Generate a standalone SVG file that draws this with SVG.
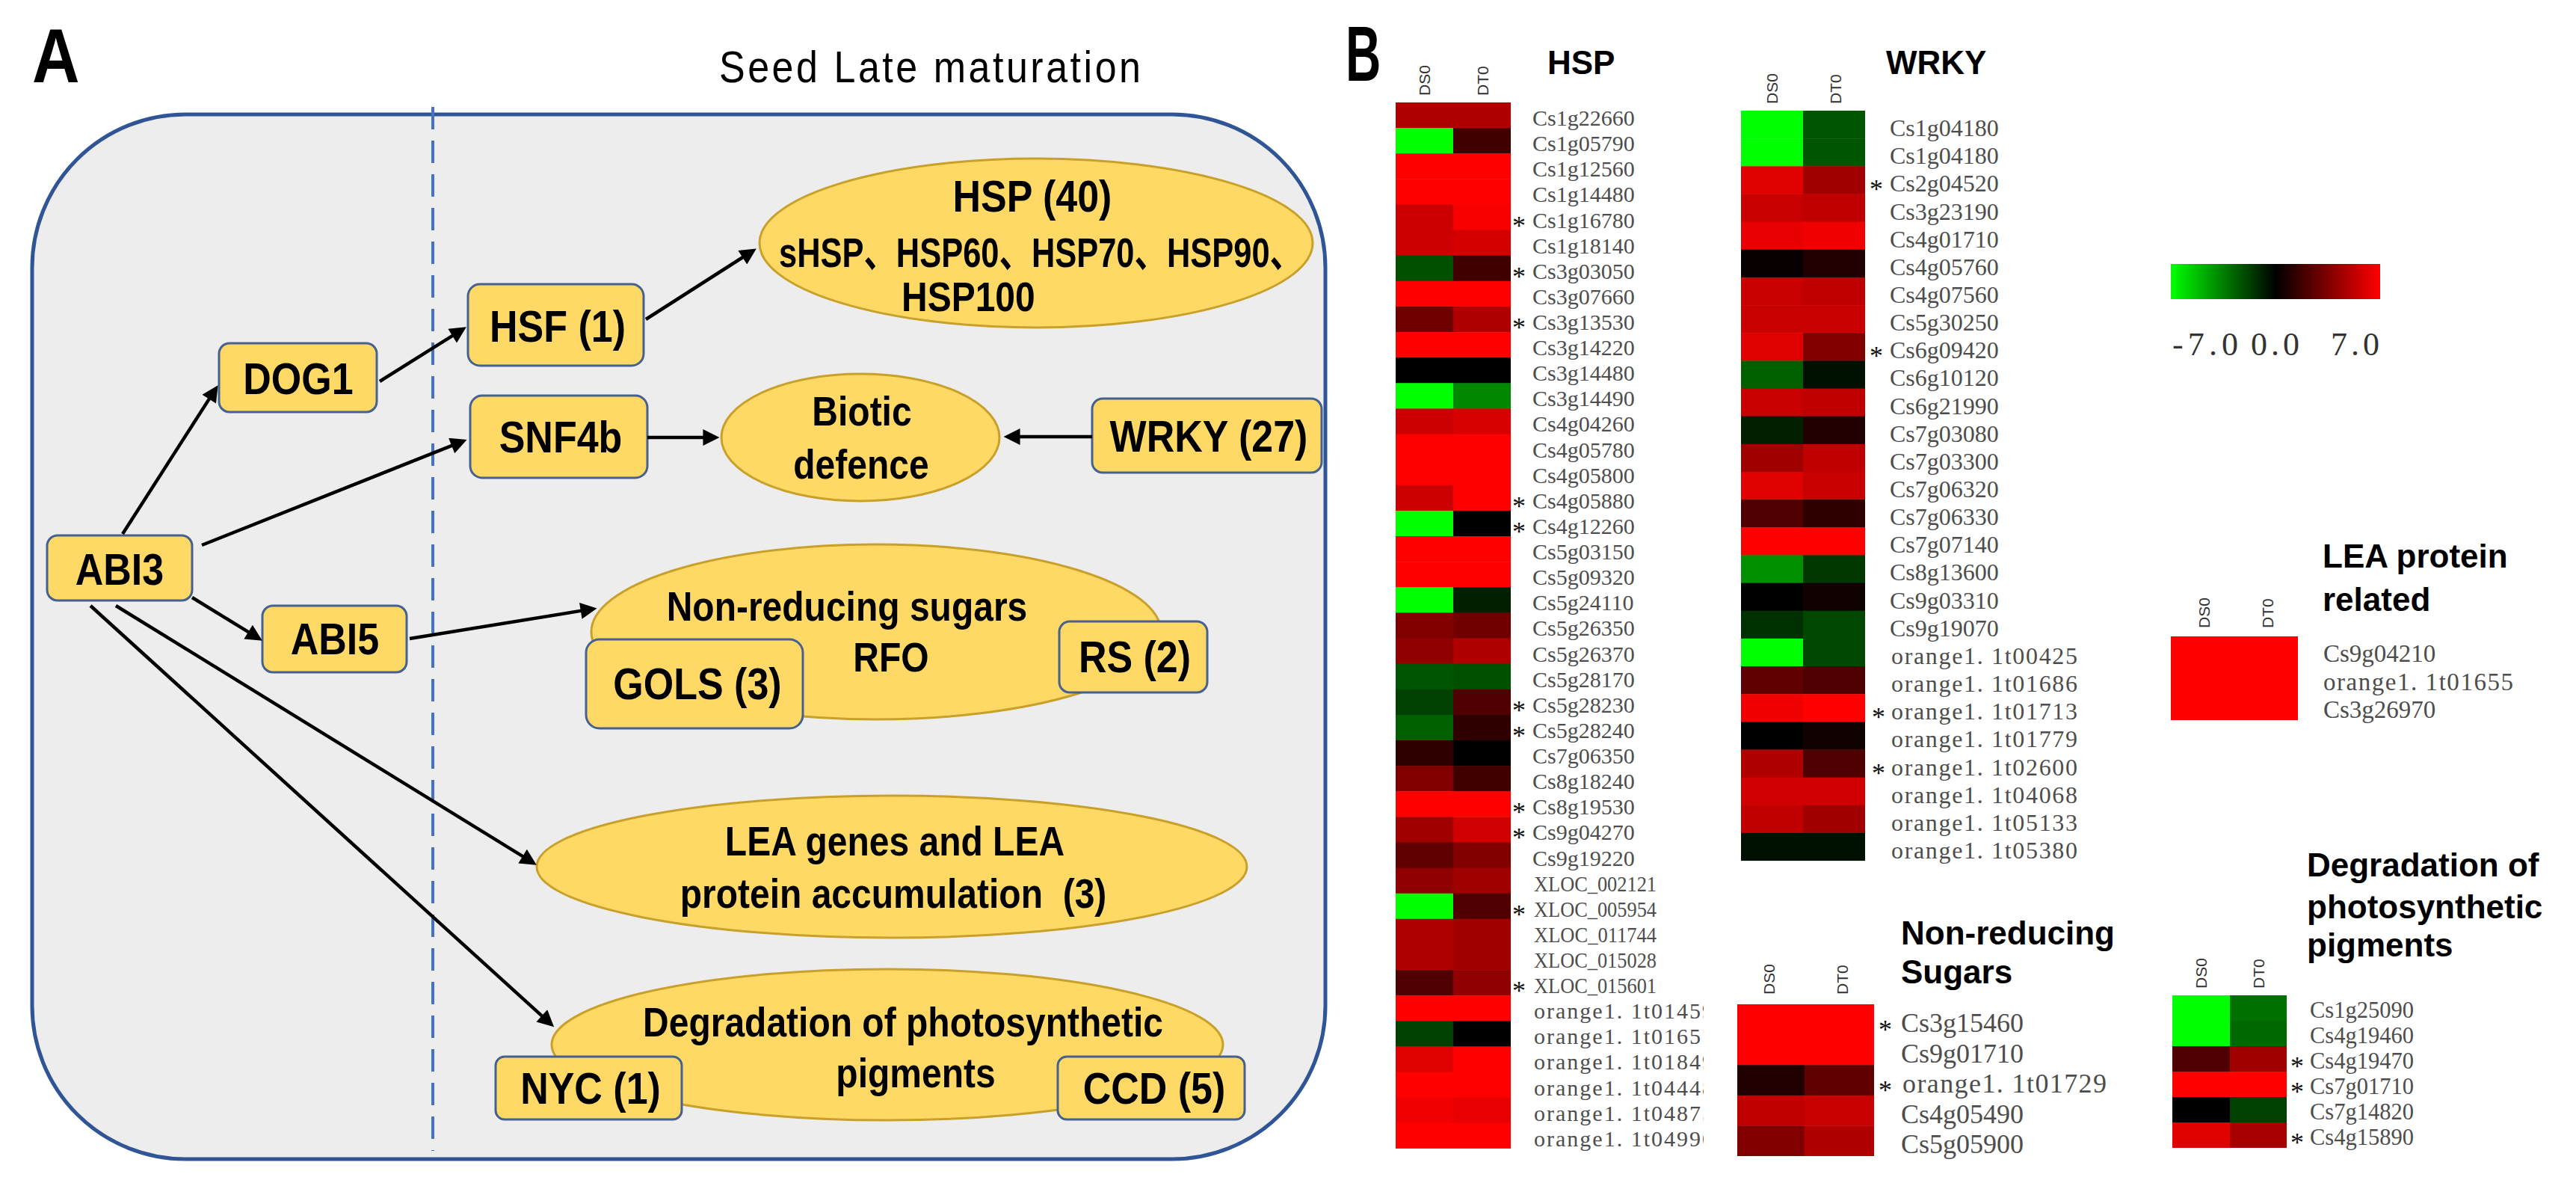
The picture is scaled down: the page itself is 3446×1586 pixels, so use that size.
<svg xmlns="http://www.w3.org/2000/svg" width="3446" height="1586" viewBox="0 0 3446 1586">
<style>
.panel{fill:#EDEDED;stroke:#2F5597;stroke-width:5}
.dash{stroke:#4472C4;stroke-width:4;stroke-dasharray:30 15;fill:none}
.box{fill:#FFD966;stroke:#44618F;stroke-width:3}
.ell{fill:#FFD966;stroke:#C8A02A;stroke-width:3}
.lab{font-family:"Liberation Sans",Arial,sans-serif;font-weight:bold;font-size:52px;text-anchor:middle;fill:#000}
.elab{font-family:"Liberation Sans",Arial,"Noto Sans CJK SC",sans-serif;font-weight:bold;font-size:48px;text-anchor:middle;fill:#000}
.big{font-family:"Liberation Sans",Arial,sans-serif;font-weight:bold;fill:#000}
.conn{stroke:#000;stroke-width:4.5;fill:none;marker-end:url(#ah)}
.gene{font-family:"Liberation Serif","Times New Roman",serif;fill:#4d4d4d}
.ast{font-family:"Liberation Serif","Times New Roman",serif;font-size:36px;fill:#111}
.col{font-family:"Liberation Sans",Arial,sans-serif;font-size:21px;fill:#333}
.ttl{font-family:"Liberation Sans",Arial,sans-serif;font-weight:bold;font-size:44px;fill:#000}
.h30{font-size:30px}.h32{font-size:32px}.h36{font-size:36px}.h33{font-size:33px}
</style>
<defs>
<marker id="ah" viewBox="0 0 10 10" refX="5.7" refY="5" markerWidth="28" markerHeight="22" markerUnits="userSpaceOnUse" orient="auto"><path d="M0,0 L10,5 L0,10 z" fill="#000"/></marker>
<linearGradient id="cbar" x1="0" y1="0" x2="1" y2="0"><stop offset="0" stop-color="#00FF00"/><stop offset="0.5" stop-color="#000000"/><stop offset="1" stop-color="#FF0000"/></linearGradient>
<clipPath id="hspclip"><rect x="1800" y="0" width="479" height="1586"/></clipPath>
</defs>
<rect x="0" y="0" width="3446" height="1586" fill="#FFFFFF"/>

<!-- Panel A -->
<text class="big" x="43" y="110" font-size="88" transform="matrix(1 0 0 1.15 0 -16.5)">A</text>
<text x="962" y="110" font-family="Liberation Sans, Arial, sans-serif" font-size="52" textLength="564" transform="matrix(1 0 0 1.15 0 -16.5)">Seed Late maturation</text>
<rect class="panel" x="43" y="153" width="1730" height="1397" rx="205" ry="205"/>
<line class="dash" x1="579" y1="143" x2="579" y2="1539"/>

<g id="node-hsp">
<ellipse class="ell" cx="1386" cy="325" rx="370" ry="113"/>
<text class="lab" x="1381" y="283" transform="matrix(1 0 0 1.15 0 -42.45)">HSP (40)</text>
<text class="elab" x="1042" y="357" font-size="44" textLength="700" lengthAdjust="spacingAndGlyphs" style="text-anchor:start" transform="matrix(1 0 0 1.15 0 -53.55)">sHSP、HSP60、HSP70、HSP90、</text>
<text class="elab" x="1206" y="416" font-size="44" style="text-anchor:start" transform="matrix(1 0 0 1.15 0 -62.4)">HSP100</text>
</g>
<g id="node-biotic">
<ellipse class="ell" cx="1151" cy="585" rx="186" ry="85"/>
<text class="elab" x="1153" y="569" transform="matrix(1 0 0 1.15 0 -85.35)">Biotic</text>
<text class="elab" x="1152" y="640" transform="matrix(1 0 0 1.15 0 -96)">defence</text>
</g>
<g id="node-nonreducing">
<ellipse class="ell" cx="1172" cy="845" rx="381" ry="117"/>
<text class="elab" x="1133" y="830" transform="matrix(1 0 0 1.15 0 -124.5)">Non-reducing sugars</text>
<text class="elab" x="1192" y="898" font-size="50" transform="matrix(1 0 0 1.15 0 -134.7)">RFO</text>
</g>
<g id="node-lea">
<ellipse class="ell" cx="1193" cy="1159" rx="475" ry="95"/>
<text class="elab" x="1197" y="1144" transform="matrix(1 0 0 1.15 0 -171.6)">LEA genes and LEA</text>
<text class="elab" x="1195" y="1214" transform="matrix(1 0 0 1.15 0 -182.1)">protein accumulation&#160; (3)</text>
</g>
<g id="node-degradation">
<ellipse class="ell" cx="1187" cy="1397" rx="449" ry="101"/>
<text class="elab" x="1208" y="1386" transform="matrix(1 0 0 1.15 0 -207.9)">Degradation of photosynthetic</text>
<text class="elab" x="1225" y="1454" transform="matrix(1 0 0 1.15 0 -218.1)">pigments</text>
</g>

<g id="node-abi3"><rect class="box" x="63" y="716" width="194" height="87" rx="14"/><text class="lab" x="160" y="782" font-size="50" transform="matrix(1 0 0 1.15 0 -117.3)">ABI3</text></g>
<g id="node-dog1"><rect class="box" x="293" y="459" width="211" height="92" rx="14"/><text class="lab" x="399" y="527" transform="matrix(1 0 0 1.15 0 -79.05)">DOG1</text></g>
<g id="node-hsf"><rect class="box" x="626" y="380" width="235" height="109" rx="16"/><text class="lab" x="746" y="457" transform="matrix(1 0 0 1.15 0 -68.55)">HSF (1)</text></g>
<g id="node-snf4b"><rect class="box" x="629" y="529" width="237" height="110" rx="16"/><text class="lab" x="750" y="605" transform="matrix(1 0 0 1.15 0 -90.75)">SNF4b</text></g>
<g id="node-abi5"><rect class="box" x="351" y="810" width="193" height="89" rx="14"/><text class="lab" x="448" y="875" font-size="50" transform="matrix(1 0 0 1.15 0 -131.25)">ABI5</text></g>
<g id="node-wrky"><rect class="box" x="1461" y="533" width="307" height="99" rx="14"/><text class="lab" x="1617" y="604" font-size="50" transform="matrix(1 0 0 1.15 0 -90.6)">WRKY (27)</text></g>
<g id="node-gols"><rect class="box" x="784" y="855" width="290" height="119" rx="18"/><text class="lab" x="933" y="935" transform="matrix(1 0 0 1.15 0 -140.25)">GOLS (3)</text></g>
<g id="node-rs"><rect class="box" x="1417" y="831" width="198" height="95" rx="14"/><text class="lab" x="1518" y="899" transform="matrix(1 0 0 1.15 0 -134.85)">RS (2)</text></g>
<g id="node-nyc"><rect class="box" x="663" y="1413" width="249" height="84" rx="12"/><text class="lab" x="790" y="1476" transform="matrix(1 0 0 1.15 0 -221.4)">NYC (1)</text></g>
<g id="node-ccd"><rect class="box" x="1415" y="1413" width="250" height="84" rx="12"/><text class="lab" x="1544" y="1476" transform="matrix(1 0 0 1.15 0 -221.4)">CCD (5)</text></g>

<g id="connectors">
<line class="conn" x1="164" y1="714" x2="286.5" y2="523.1"/>
<line class="conn" x1="508" y1="510" x2="615.8" y2="442.4"/>
<line class="conn" x1="270" y1="729" x2="615.8" y2="591.4"/>
<line class="conn" x1="864" y1="427" x2="1003.9" y2="337.5"/>
<line class="conn" x1="866" y1="585" x2="953" y2="585"/>
<line class="conn" x1="1461" y1="584" x2="1352" y2="584"/>
<line class="conn" x1="257" y1="799" x2="342.8" y2="851.7"/>
<line class="conn" x1="548" y1="854" x2="789.2" y2="814.9"/>
<line class="conn" x1="155" y1="810" x2="709.8" y2="1151.7"/>
<line class="conn" x1="121" y1="810" x2="734.1" y2="1366.9"/>
</g>

<!-- Panel B -->
<text class="big" x="1800" y="108" font-size="104" transform="matrix(0.63 0 0 1 666 0)">B</text>

<g id="heatmap-hsp">
<text class="ttl" x="2070" y="99" font-size="46">HSP</text>
<text class="col" transform="translate(1913,128) rotate(-90)">DS0</text>
<text class="col" transform="translate(1991,128) rotate(-90)">DT0</text>
<g>
<rect x="1867" y="137" width="77" height="34.6" fill="#B00000"/><rect x="1944" y="137" width="77" height="34.6" fill="#B00000"/>
<rect x="1867" y="171.1" width="77" height="34.6" fill="#00FF00"/><rect x="1944" y="171.1" width="77" height="34.6" fill="#400000"/>
<rect x="1867" y="205.2" width="77" height="34.6" fill="#FF0000"/><rect x="1944" y="205.2" width="77" height="34.6" fill="#FF0000"/>
<rect x="1867" y="239.4" width="77" height="34.6" fill="#FF0000"/><rect x="1944" y="239.4" width="77" height="34.6" fill="#FF0000"/>
<rect x="1867" y="273.5" width="77" height="34.6" fill="#CC0000"/><rect x="1944" y="273.5" width="77" height="34.6" fill="#F80000"/>
<rect x="1867" y="307.6" width="77" height="34.6" fill="#CC0000"/><rect x="1944" y="307.6" width="77" height="34.6" fill="#D40000"/>
<rect x="1867" y="341.7" width="77" height="34.6" fill="#005000"/><rect x="1944" y="341.7" width="77" height="34.6" fill="#400000"/>
<rect x="1867" y="375.8" width="77" height="34.6" fill="#FF0000"/><rect x="1944" y="375.8" width="77" height="34.6" fill="#FF0000"/>
<rect x="1867" y="410" width="77" height="34.6" fill="#700000"/><rect x="1944" y="410" width="77" height="34.6" fill="#B00000"/>
<rect x="1867" y="444.1" width="77" height="34.6" fill="#FF0000"/><rect x="1944" y="444.1" width="77" height="34.6" fill="#FF0000"/>
<rect x="1867" y="478.2" width="77" height="34.6" fill="#000000"/><rect x="1944" y="478.2" width="77" height="34.6" fill="#000000"/>
<rect x="1867" y="512.3" width="77" height="34.6" fill="#00FF00"/><rect x="1944" y="512.3" width="77" height="34.6" fill="#008800"/>
<rect x="1867" y="546.4" width="77" height="34.6" fill="#CC0000"/><rect x="1944" y="546.4" width="77" height="34.6" fill="#D80000"/>
<rect x="1867" y="580.6" width="77" height="34.6" fill="#FF0000"/><rect x="1944" y="580.6" width="77" height="34.6" fill="#FF0000"/>
<rect x="1867" y="614.7" width="77" height="34.6" fill="#FF0000"/><rect x="1944" y="614.7" width="77" height="34.6" fill="#FF0000"/>
<rect x="1867" y="648.8" width="77" height="34.6" fill="#CC0000"/><rect x="1944" y="648.8" width="77" height="34.6" fill="#FF0000"/>
<rect x="1867" y="682.9" width="77" height="34.6" fill="#00FF00"/><rect x="1944" y="682.9" width="77" height="34.6" fill="#000000"/>
<rect x="1867" y="717" width="77" height="34.6" fill="#FF0000"/><rect x="1944" y="717" width="77" height="34.6" fill="#FF0000"/>
<rect x="1867" y="751.2" width="77" height="34.6" fill="#FF0000"/><rect x="1944" y="751.2" width="77" height="34.6" fill="#FF0000"/>
<rect x="1867" y="785.3" width="77" height="34.6" fill="#00FF00"/><rect x="1944" y="785.3" width="77" height="34.6" fill="#002000"/>
<rect x="1867" y="819.4" width="77" height="34.6" fill="#800000"/><rect x="1944" y="819.4" width="77" height="34.6" fill="#700000"/>
<rect x="1867" y="853.5" width="77" height="34.6" fill="#900000"/><rect x="1944" y="853.5" width="77" height="34.6" fill="#B00000"/>
<rect x="1867" y="887.6" width="77" height="34.6" fill="#005500"/><rect x="1944" y="887.6" width="77" height="34.6" fill="#005000"/>
<rect x="1867" y="921.8" width="77" height="34.6" fill="#004000"/><rect x="1944" y="921.8" width="77" height="34.6" fill="#500000"/>
<rect x="1867" y="955.9" width="77" height="34.6" fill="#006000"/><rect x="1944" y="955.9" width="77" height="34.6" fill="#300000"/>
<rect x="1867" y="990" width="77" height="34.6" fill="#300000"/><rect x="1944" y="990" width="77" height="34.6" fill="#000000"/>
<rect x="1867" y="1024.1" width="77" height="34.6" fill="#800000"/><rect x="1944" y="1024.1" width="77" height="34.6" fill="#400000"/>
<rect x="1867" y="1058.2" width="77" height="34.6" fill="#FF0000"/><rect x="1944" y="1058.2" width="77" height="34.6" fill="#FF0000"/>
<rect x="1867" y="1092.4" width="77" height="34.6" fill="#A00000"/><rect x="1944" y="1092.4" width="77" height="34.6" fill="#D00000"/>
<rect x="1867" y="1126.5" width="77" height="34.6" fill="#600000"/><rect x="1944" y="1126.5" width="77" height="34.6" fill="#800000"/>
<rect x="1867" y="1160.6" width="77" height="34.6" fill="#900000"/><rect x="1944" y="1160.6" width="77" height="34.6" fill="#A00000"/>
<rect x="1867" y="1194.7" width="77" height="34.6" fill="#00FF00"/><rect x="1944" y="1194.7" width="77" height="34.6" fill="#500000"/>
<rect x="1867" y="1228.8" width="77" height="34.6" fill="#B00000"/><rect x="1944" y="1228.8" width="77" height="34.6" fill="#A00000"/>
<rect x="1867" y="1263" width="77" height="34.6" fill="#B00000"/><rect x="1944" y="1263" width="77" height="34.6" fill="#A00000"/>
<rect x="1867" y="1297.1" width="77" height="34.6" fill="#500000"/><rect x="1944" y="1297.1" width="77" height="34.6" fill="#900000"/>
<rect x="1867" y="1331.2" width="77" height="34.6" fill="#FF0000"/><rect x="1944" y="1331.2" width="77" height="34.6" fill="#FF0000"/>
<rect x="1867" y="1365.3" width="77" height="34.6" fill="#004000"/><rect x="1944" y="1365.3" width="77" height="34.6" fill="#000000"/>
<rect x="1867" y="1399.4" width="77" height="34.6" fill="#E00000"/><rect x="1944" y="1399.4" width="77" height="34.6" fill="#FF0000"/>
<rect x="1867" y="1433.6" width="77" height="34.6" fill="#FF0000"/><rect x="1944" y="1433.6" width="77" height="34.6" fill="#FF0000"/>
<rect x="1867" y="1467.7" width="77" height="34.6" fill="#F00000"/><rect x="1944" y="1467.7" width="77" height="34.6" fill="#E80000"/>
<rect x="1867" y="1501.8" width="77" height="34.1" fill="#FF0000"/><rect x="1944" y="1501.8" width="77" height="34.1" fill="#FF0000"/>
</g>
<g class="gene h30">
<text x="2050" y="168">Cs1g22660</text>
<text x="2050" y="202.1">Cs1g05790</text>
<text x="2050" y="236.2">Cs1g12560</text>
<text x="2050" y="270.4">Cs1g14480</text>
<text x="2050" y="304.5">Cs1g16780</text>
<text x="2050" y="338.6">Cs1g18140</text>
<text x="2050" y="372.7">Cs3g03050</text>
<text x="2050" y="406.8">Cs3g07660</text>
<text x="2050" y="441">Cs3g13530</text>
<text x="2050" y="475.1">Cs3g14220</text>
<text x="2050" y="509.2">Cs3g14480</text>
<text x="2050" y="543.3">Cs3g14490</text>
<text x="2050" y="577.4">Cs4g04260</text>
<text x="2050" y="611.6">Cs4g05780</text>
<text x="2050" y="645.7">Cs4g05800</text>
<text x="2050" y="679.8">Cs4g05880</text>
<text x="2050" y="713.9">Cs4g12260</text>
<text x="2050" y="748">Cs5g03150</text>
<text x="2050" y="782.2">Cs5g09320</text>
<text x="2050" y="816.3">Cs5g24110</text>
<text x="2050" y="850.4">Cs5g26350</text>
<text x="2050" y="884.5">Cs5g26370</text>
<text x="2050" y="918.6">Cs5g28170</text>
<text x="2050" y="952.8">Cs5g28230</text>
<text x="2050" y="986.9">Cs5g28240</text>
<text x="2050" y="1021">Cs7g06350</text>
<text x="2050" y="1055.1">Cs8g18240</text>
<text x="2050" y="1089.2">Cs8g19530</text>
<text x="2050" y="1123.4">Cs9g04270</text>
<text x="2050" y="1157.5">Cs9g19220</text>
<text x="2052" y="1191.6" textLength="164" lengthAdjust="spacingAndGlyphs">XLOC_002121</text>
<text x="2052" y="1225.7" textLength="164" lengthAdjust="spacingAndGlyphs">XLOC_005954</text>
<text x="2052" y="1259.8" textLength="164" lengthAdjust="spacingAndGlyphs">XLOC_011744</text>
<text x="2052" y="1294" textLength="164" lengthAdjust="spacingAndGlyphs">XLOC_015028</text>
<text x="2052" y="1328.1" textLength="164" lengthAdjust="spacingAndGlyphs">XLOC_015601</text>
<g clip-path="url(#hspclip)">
<text x="2052" y="1362.2" textLength="240">orange1. 1t01459</text>
<text x="2052" y="1396.3" textLength="240">orange1. 1t01657</text>
<text x="2052" y="1430.4" textLength="240">orange1. 1t01849</text>
<text x="2052" y="1464.6" textLength="240">orange1. 1t04448</text>
<text x="2052" y="1498.7" textLength="240">orange1. 1t04875</text>
<text x="2052" y="1532.8" textLength="240">orange1. 1t04990</text>
</g>
</g>
<g class="ast">
<text x="2023" y="313.5">*</text>
<text x="2023" y="381.7">*</text>
<text x="2023" y="450">*</text>
<text x="2023" y="688.8">*</text>
<text x="2023" y="722.9">*</text>
<text x="2023" y="961.8">*</text>
<text x="2023" y="995.9">*</text>
<text x="2023" y="1098.2">*</text>
<text x="2023" y="1132.4">*</text>
<text x="2023" y="1234.7">*</text>
<text x="2023" y="1337.1">*</text>
</g>
</g>

<g id="heatmap-wrky">
<text class="ttl" x="2523" y="99" font-size="45">WRKY</text>
<text class="col" transform="translate(2378,139) rotate(-90)">DS0</text>
<text class="col" transform="translate(2463,139) rotate(-90)">DT0</text>
<g>
<rect x="2329" y="148" width="83" height="37.6" fill="#00FF00"/><rect x="2412" y="148" width="83" height="37.6" fill="#005500"/>
<rect x="2329" y="185.2" width="83" height="37.6" fill="#00FF00"/><rect x="2412" y="185.2" width="83" height="37.6" fill="#005500"/>
<rect x="2329" y="222.3" width="83" height="37.6" fill="#E00000"/><rect x="2412" y="222.3" width="83" height="37.6" fill="#A00000"/>
<rect x="2329" y="259.5" width="83" height="37.6" fill="#C80000"/><rect x="2412" y="259.5" width="83" height="37.6" fill="#C00000"/>
<rect x="2329" y="296.6" width="83" height="37.6" fill="#E80000"/><rect x="2412" y="296.6" width="83" height="37.6" fill="#F00000"/>
<rect x="2329" y="333.8" width="83" height="37.6" fill="#080000"/><rect x="2412" y="333.8" width="83" height="37.6" fill="#200000"/>
<rect x="2329" y="370.9" width="83" height="37.6" fill="#C80000"/><rect x="2412" y="370.9" width="83" height="37.6" fill="#C00000"/>
<rect x="2329" y="408.1" width="83" height="37.6" fill="#C80000"/><rect x="2412" y="408.1" width="83" height="37.6" fill="#C80000"/>
<rect x="2329" y="445.2" width="83" height="37.6" fill="#E00000"/><rect x="2412" y="445.2" width="83" height="37.6" fill="#800000"/>
<rect x="2329" y="482.4" width="83" height="37.6" fill="#006000"/><rect x="2412" y="482.4" width="83" height="37.6" fill="#001000"/>
<rect x="2329" y="519.5" width="83" height="37.6" fill="#C80000"/><rect x="2412" y="519.5" width="83" height="37.6" fill="#C00000"/>
<rect x="2329" y="556.7" width="83" height="37.6" fill="#002000"/><rect x="2412" y="556.7" width="83" height="37.6" fill="#200000"/>
<rect x="2329" y="593.8" width="83" height="37.6" fill="#A00000"/><rect x="2412" y="593.8" width="83" height="37.6" fill="#C00000"/>
<rect x="2329" y="631" width="83" height="37.6" fill="#E00000"/><rect x="2412" y="631" width="83" height="37.6" fill="#C80000"/>
<rect x="2329" y="668.1" width="83" height="37.6" fill="#500000"/><rect x="2412" y="668.1" width="83" height="37.6" fill="#300000"/>
<rect x="2329" y="705.3" width="83" height="37.6" fill="#FF0000"/><rect x="2412" y="705.3" width="83" height="37.6" fill="#FF0000"/>
<rect x="2329" y="742.4" width="83" height="37.6" fill="#009000"/><rect x="2412" y="742.4" width="83" height="37.6" fill="#003800"/>
<rect x="2329" y="779.6" width="83" height="37.6" fill="#000000"/><rect x="2412" y="779.6" width="83" height="37.6" fill="#100000"/>
<rect x="2329" y="816.7" width="83" height="37.6" fill="#003000"/><rect x="2412" y="816.7" width="83" height="37.6" fill="#004800"/>
<rect x="2329" y="853.9" width="83" height="37.6" fill="#00FF00"/><rect x="2412" y="853.9" width="83" height="37.6" fill="#004800"/>
<rect x="2329" y="891" width="83" height="37.6" fill="#600000"/><rect x="2412" y="891" width="83" height="37.6" fill="#500000"/>
<rect x="2329" y="928.2" width="83" height="37.6" fill="#F00000"/><rect x="2412" y="928.2" width="83" height="37.6" fill="#FF0000"/>
<rect x="2329" y="965.3" width="83" height="37.6" fill="#000000"/><rect x="2412" y="965.3" width="83" height="37.6" fill="#100000"/>
<rect x="2329" y="1002.5" width="83" height="37.6" fill="#B00000"/><rect x="2412" y="1002.5" width="83" height="37.6" fill="#500000"/>
<rect x="2329" y="1039.6" width="83" height="37.6" fill="#D00000"/><rect x="2412" y="1039.6" width="83" height="37.6" fill="#D00000"/>
<rect x="2329" y="1076.8" width="83" height="37.6" fill="#C00000"/><rect x="2412" y="1076.8" width="83" height="37.6" fill="#A00000"/>
<rect x="2329" y="1113.9" width="83" height="37.2" fill="#001000"/><rect x="2412" y="1113.9" width="83" height="37.2" fill="#001000"/>
</g>
<g class="gene h32">
<text x="2528" y="182">Cs1g04180</text>
<text x="2528" y="219.2">Cs1g04180</text>
<text x="2528" y="256.3">Cs2g04520</text>
<text x="2528" y="293.5">Cs3g23190</text>
<text x="2528" y="330.6">Cs4g01710</text>
<text x="2528" y="367.8">Cs4g05760</text>
<text x="2528" y="404.9">Cs4g07560</text>
<text x="2528" y="442.1">Cs5g30250</text>
<text x="2528" y="479.2">Cs6g09420</text>
<text x="2528" y="516.4">Cs6g10120</text>
<text x="2528" y="553.5">Cs6g21990</text>
<text x="2528" y="590.7">Cs7g03080</text>
<text x="2528" y="627.8">Cs7g03300</text>
<text x="2528" y="665">Cs7g06320</text>
<text x="2528" y="702.1">Cs7g06330</text>
<text x="2528" y="739.3">Cs7g07140</text>
<text x="2528" y="776.4">Cs8g13600</text>
<text x="2528" y="813.6">Cs9g03310</text>
<text x="2528" y="850.7">Cs9g19070</text>
<text x="2530" y="887.9" textLength="249">orange1. 1t00425</text>
<text x="2530" y="925" textLength="249">orange1. 1t01686</text>
<text x="2530" y="962.2" textLength="249">orange1. 1t01713</text>
<text x="2530" y="999.3" textLength="249">orange1. 1t01779</text>
<text x="2530" y="1036.5" textLength="249">orange1. 1t02600</text>
<text x="2530" y="1073.6" textLength="249">orange1. 1t04068</text>
<text x="2530" y="1110.8" textLength="249">orange1. 1t05133</text>
<text x="2530" y="1147.9" textLength="249">orange1. 1t05380</text>
</g>
<g class="ast">
<text x="2501" y="265.3">*</text>
<text x="2501" y="488.2">*</text>
<text x="2504" y="971.2">*</text>
<text x="2504" y="1045.5">*</text>
</g>
</g>

<g id="heatmap-nonreducing">
<text class="ttl" x="2543" y="1263">Non-reducing</text>
<text class="ttl" x="2543" y="1315">Sugars</text>
<text class="col" transform="translate(2374,1330) rotate(-90)">DS0</text>
<text class="col" transform="translate(2472,1330) rotate(-90)">DT0</text>
<rect x="2324" y="1343" width="90" height="41" fill="#FF0000"/><rect x="2414" y="1343" width="93" height="41" fill="#FF0000"/>
<rect x="2324" y="1383.6" width="90" height="41" fill="#FF0000"/><rect x="2414" y="1383.6" width="93" height="41" fill="#FF0000"/>
<rect x="2324" y="1424.2" width="90" height="41" fill="#200000"/><rect x="2414" y="1424.2" width="93" height="41" fill="#600000"/>
<rect x="2324" y="1464.8" width="90" height="41" fill="#C00000"/><rect x="2414" y="1464.8" width="93" height="41" fill="#C80000"/>
<rect x="2324" y="1505.4" width="90" height="40.6" fill="#800000"/><rect x="2414" y="1505.4" width="93" height="40.6" fill="#B00000"/>
<g class="gene h36">
<text x="2543" y="1380">Cs3g15460</text>
<text x="2543" y="1421">Cs9g01710</text>
<text x="2545" y="1461" textLength="273">orange1. 1t01729</text>
<text x="2543" y="1502">Cs4g05490</text>
<text x="2543" y="1542">Cs5g05900</text>
</g>
<g class="ast">
<text x="2513" y="1389">*</text>
<text x="2513" y="1470">*</text>
</g>
</g>

<g id="colorbar">
<rect x="2904" y="353" width="280" height="47" fill="url(#cbar)"/>
<g class="gene" style="fill:#333" font-size="44">
<text x="2906" y="475" textLength="88">-7.0</text>
<text x="3011" y="475" textLength="65">0.0</text>
<text x="3118" y="475" textLength="65">7.0</text>
</g>
</g>

<g id="heatmap-lea">
<text class="ttl" x="3107" y="759">LEA protein</text>
<text class="ttl" x="3107" y="817">related</text>
<text class="col" transform="translate(2956,840) rotate(-90)">DS0</text>
<text class="col" transform="translate(3041,840) rotate(-90)">DT0</text>
<rect x="2904" y="851" width="170" height="112" fill="#FF0000"/>
<g class="gene h33">
<text x="3108" y="885">Cs9g04210</text>
<text x="3108" y="923" textLength="254">orange1. 1t01655</text>
<text x="3108" y="960">Cs3g26970</text>
</g>
</g>

<g id="heatmap-degradation">
<text class="ttl" x="3086" y="1172">Degradation of</text>
<text class="ttl" x="3086" y="1228">photosynthetic</text>
<text class="ttl" x="3086" y="1279">pigments</text>
<text class="col" transform="translate(2952,1322) rotate(-90)">DS0</text>
<text class="col" transform="translate(3029,1322) rotate(-90)">DT0</text>
<rect x="2906" y="1331" width="77" height="34.5" fill="#00FF00"/><rect x="2983" y="1331" width="76" height="34.5" fill="#007000"/>
<rect x="2906" y="1365" width="77" height="34.5" fill="#00FF00"/><rect x="2983" y="1365" width="76" height="34.5" fill="#006800"/>
<rect x="2906" y="1399" width="77" height="34.5" fill="#500000"/><rect x="2983" y="1399" width="76" height="34.5" fill="#A00000"/>
<rect x="2906" y="1433" width="77" height="34.5" fill="#FF0000"/><rect x="2983" y="1433" width="76" height="34.5" fill="#FF0000"/>
<rect x="2906" y="1467" width="77" height="34.5" fill="#000000"/><rect x="2983" y="1467" width="76" height="34.5" fill="#004000"/>
<rect x="2906" y="1501" width="77" height="34" fill="#E00000"/><rect x="2983" y="1501" width="76" height="34" fill="#A80000"/>
<g class="gene" font-size="30.5">
<text x="3090" y="1361">Cs1g25090</text>
<text x="3090" y="1395">Cs4g19460</text>
<text x="3090" y="1429">Cs4g19470</text>
<text x="3090" y="1463">Cs7g01710</text>
<text x="3090" y="1497">Cs7g14820</text>
<text x="3090" y="1531">Cs4g15890</text>
</g>
<g class="ast">
<text x="3064" y="1438">*</text>
<text x="3064" y="1472">*</text>
<text x="3064" y="1540">*</text>
</g>
</g>
</svg>
